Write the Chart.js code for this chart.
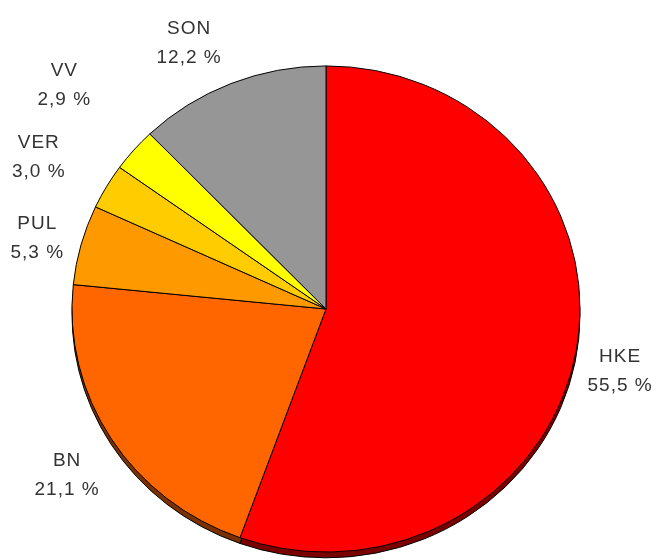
<!DOCTYPE html>
<html>
<head>
<meta charset="utf-8">
<script src="https://cdn.jsdelivr.net/npm/chart.js@4/dist/chart.umd.min.js"></script>
<style>
  html, body { margin: 0; padding: 0; background: #fff; }
  #grafica { display: block; }
</style>
</head>
<body>
<canvas id="grafica" width="657" height="560"></canvas>
<script>
// datos
const especies = ['HKE', 'BN', 'PUL', 'VER', 'VV', 'SON'];
const porcentajes = [55.5, 21.1, 5.3, 3.0, 2.9, 12.2];
const colores = ['#ff0000', '#ff6600', '#ff9900', '#ffcc00', '#ffff00', '#969696'];
const sombras = ['#7a0000', '#7a3000', '#7a4800', '#7a6000', '#7a7a00', '#4a4a4a'];

// distancia de cada etiqueta al centro y giro extra (grados)
const etiquetaPos = {
  HKE: { r: 300, giro: 1.5 },
  BN:  { r: 306, giro: 0 },
  PUL: { r: 298, giro: -1 },
  VER: { r: 326, giro: -2 },
  VV:  { r: 346, giro: 0 },
  SON: { r: 302, giro: -5 }
};

const achatado = 0.957;   // el pastel se ve un poco aplastado (perspectiva)

const formato = v => v.toFixed(1).replace('.', ',') + ' %';

// borde inferior oscuro (efecto 3D) + aplastado vertical
const sombra3D = {
  id: 'sombra3D',
  beforeDatasetsDraw(chart) {
    const ctx = chart.ctx;
    const arcos = chart.getDatasetMeta(0).data;
    const c = arcos[0].getProps(['x', 'y']);
    ctx.save();
    ctx.translate(c.x, c.y);
    ctx.scale(1, achatado);
    ctx.translate(-c.x, -c.y);
    arcos.forEach((arco, i) => {
      const p = arco.getProps(['x', 'y', 'startAngle', 'endAngle', 'outerRadius']);
      ctx.save();
      ctx.beginPath();
      ctx.moveTo(p.x, p.y + 6);
      ctx.arc(p.x, p.y + 6, p.outerRadius, p.startAngle, p.endAngle);
      ctx.closePath();
      ctx.fillStyle = sombras[i];
      ctx.fill();
      ctx.lineWidth = 1;
      ctx.strokeStyle = '#000';
      ctx.stroke();
      ctx.restore();
    });
  },
  afterDatasetsDraw(chart) {
    chart.ctx.restore();
  }
};

const etiquetas = {
  id: 'etiquetas',
  afterDatasetsDraw(chart) {
    const ctx = chart.ctx;
    const arcos = chart.getDatasetMeta(0).data;
    ctx.save();
    ctx.font = '19px "Liberation Sans", Arial, sans-serif';
    ctx.letterSpacing = '1px';
    ctx.fillStyle = '#333';
    ctx.textAlign = 'center';
    ctx.textBaseline = 'middle';
    arcos.forEach((arco, i) => {
      const p = arco.getProps(['x', 'y', 'startAngle', 'endAngle']);
      const conf = etiquetaPos[especies[i]];
      const medio = (p.startAngle + p.endAngle) / 2 + conf.giro * Math.PI / 180;
      const x = p.x + Math.cos(medio) * conf.r;
      const y = p.y + Math.sin(medio) * conf.r + 3;
      ctx.fillText(especies[i], x, y - 14.5);
      ctx.fillText(formato(porcentajes[i]), x, y + 14.5);
    });
    ctx.restore();
  }
};

const ctx = document.getElementById('grafica').getContext('2d');
new Chart(ctx, {
  type: 'pie',
  data: {
    labels: especies,
    datasets: [{
      data: porcentajes,
      backgroundColor: colores,
      borderColor: '#000',
      borderWidth: 1,
      hoverOffset: 0
    }]
  },
  options: {
    responsive: false,
    animation: false,
    radius: 254,
    layout: { autoPadding: false, padding: { left: 70, right: 75, top: 58, bottom: 0 } },
    plugins: { legend: { display: false }, tooltip: { enabled: false } }
  },
  plugins: [sombra3D, etiquetas]
});
</script>
</body>
</html>
